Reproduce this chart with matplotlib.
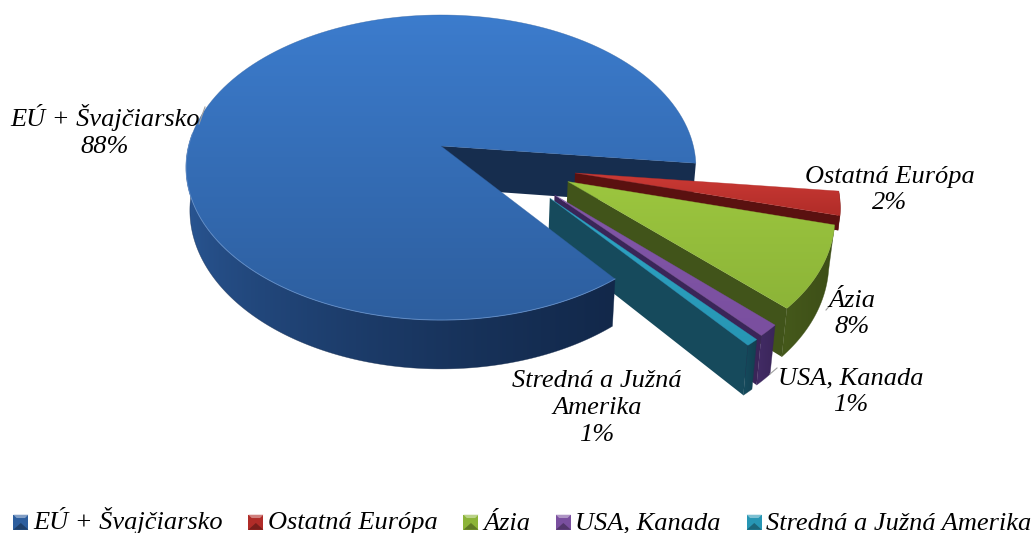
import numpy as np
import matplotlib
matplotlib.use("Agg")
import matplotlib.pyplot as plt
from matplotlib.patches import Polygon, Rectangle
from matplotlib.colors import to_rgb
from matplotlib.legend_handler import HandlerBase

# ---- data
categories = ["EÚ + Švajčiarsko", "Ostatná Európa", "Ázia", "USA, Kanada", "Stredná a Južná Amerika"]
shares = [87.3, 2.4, 8.4, 1.2, 0.7]
label_texts = ["EÚ + Švajčiarsko\n88%", "Ostatná Európa\n2%", "Ázia\n8%", "USA, Kanada\n1%", "Stredná a Južná\nAmerika\n1%"]

# ---- style / layout
top_colors = [("#3c7ccd", "#2d5e9e"), ("#cb3a35", "#b02c28"), ("#9cc63f", "#8cb438"), ("#8257a8", "#7a4f9f"), ("#2fa6c6", "#2796b4")]
side_colors = [("#2a5795", "#12284a"), ("#5c1210", "#5c1210"), ("#45591b", "#3d4e17"), ("#432c66", "#3a2559"), ("#154c5e", "#133f50")]
wall_colors = ["#162d4e", "#5a1110", "#41541a", "#3a2558", "#164a5c"]
explode = [(0, 0), (.518, -.176), (.486, -.23), (.43, -.313), (.411, -.332)]
radius = [1, 1, 1, 1, 1]
depth_scale = [1, .33, 1, 1, 1]
label_xy = [(105, 131), (890, 190), (852, 314), (851, 392), (597, 408)]
leaders = [((199, 124), (205, 107)), ((826, 310), (832, 303)), ((777, 368), (770, 374))]
start = -6.5
CX, CY, RX, RY, PERSP = 441, 146, 252.4, 149.5, .141
DEPTH, SHRINK = 42, .985
FONT = "Liberation Serif"
FS = 19

fig = plt.figure(figsize=(10.33, 5.33), dpi=100)
ax = fig.add_axes([0, 0, 1, 1])
ax.set_axis_off()


def project(u, v, bottom=False, ds=1.0):
    u, v = np.asarray(u, float), np.asarray(v, float)
    w = 1 + PERSP * v
    x = CX + RX * u / w
    y = CY - RY * v / w
    if bottom:
        x = CX + (x - CX) * (1 - (1 - SHRINK) * ds)
        y = y + DEPTH * ds / w
    return np.column_stack([x, y])


def arc(a0, a1, off=(0, 0), r=1.0, n=160):
    t = np.radians(np.linspace(a0, a1, n))
    return off[0] + r * np.cos(t), off[1] + r * np.sin(t)


def gradient(pts, c0, c1, horizontal=False, z=1, gamma=1.0):
    poly = Polygon(pts, closed=True, transform=ax.transData, fc="none", ec="none")
    ax.add_patch(poly)
    x0, x1, y0, y1 = pts[:, 0].min(), pts[:, 0].max(), pts[:, 1].min(), pts[:, 1].max()
    a, b = np.array(to_rgb(c0)), np.array(to_rgb(c1))
    f = np.linspace(0, 1, 256)[:, None] ** gamma
    g = a + (b - a) * f
    img = g[None, :, :] if horizontal else g[:, None, :]
    im = ax.imshow(img, extent=(x0, x1, y1, y0), aspect="auto", interpolation="bilinear", zorder=z)
    poly.set_zorder(z)
    im.set_clip_path(poly)
    ax.add_patch(Polygon(pts, closed=True, fc="none", ec=c1, lw=.4, zorder=z, alpha=.6))


# angular spans, clockwise from the EÚ end
spans = [v * 3.6 for v in shares]
bounds = {}
a = start
for i in [1, 2, 3, 4]:
    bounds[i] = (a, a - spans[i])
    a -= spans[i]
bounds[0] = (start, start + spans[0])


def strip(a0, a1, off, r, ds=1.0):
    u, v = arc(a0, a1, off, r)
    return np.vstack([project(u, v), project(u, v, True, ds)[::-1]])


# back wall of the large slice
u_e, v_e = np.cos(np.radians(start)), np.sin(np.radians(start))
p_top = project([0, u_e], [0, v_e])
p_bot = project([0, u_e], [0, v_e], True)
ax.add_patch(Polygon(np.vstack([p_top, p_bot[::-1]]), fc=wall_colors[0], ec="none", zorder=1))

# exploded slices, far to near
z = 2
for i in [1, 2, 3, 4]:
    a0, a1 = bounds[i]
    off, r, ds = explode[i], radius[i], depth_scale[i]
    ue, ve = off[0] + r * np.cos(np.radians(a1)), off[1] + r * np.sin(np.radians(a1))
    wt = project([off[0], ue], [off[1], ve])
    wb = project([off[0], ue], [off[1], ve], True, ds)
    ax.add_patch(Polygon(np.vstack([wt, wb[::-1]]), fc=wall_colors[i], ec="none", zorder=z))
    gradient(strip(a0, a1, off, r, ds), side_colors[i][0], side_colors[i][1], True, z)
    u, v = arc(a0, a1, off, r)
    toppts = np.vstack([project([off[0]], [off[1]]), project(u, v)])
    gradient(toppts, top_colors[i][0], top_colors[i][1], False, z + .5)
    z += 1

# front of the large slice and its top face
a0, a1 = bounds[0]
end = a1 - 360  # near corner, lower right
gradient(strip(end, -180 - 5, (0, 0), 1), side_colors[0][0], side_colors[0][1], True, 8, gamma=.6)
u, v = arc(a0, a1)
top = np.vstack([project([0], [0]), project(u, v)])
gradient(top, top_colors[0][0], top_colors[0][1], False, 9)
ue, ve = arc(end, -185)
ax.plot(*project(ue, ve).T, color="#6f9bd6", lw=.7, alpha=.7, zorder=9.5)

# data labels
for txt, (x, y) in zip(label_texts, label_xy):
    ax.text(x, y, txt, ha="center", va="center", family=FONT, style="italic", fontsize=FS,
            linespacing=1.27, color="black", zorder=12)
for p, q in leaders:
    ax.plot([p[0], q[0]], [p[1], q[1]], color="#a0a0a0", lw=.8, zorder=11)


class Bevel(HandlerBase):
    def create_artists(self, legend, orig, xd, yd, width, height, fontsize, trans):
        s = 10.8
        x0, y0 = -xd + (width - s), -yd + .5
        base = np.array(orig.get_facecolor()[:3])
        dark = base * .68
        light = base + (1 - base) * .4
        b = s * .22
        return [Rectangle((x0, y0), s, s, fc=base, ec="none", transform=trans),
                Polygon([(x0, y0 + s), (x0 + s, y0 + s), (x0 + s - b, y0 + s - b), (x0 + b, y0 + s - b)], fc=light, ec="none", transform=trans),
                Polygon([(x0, y0), (x0 + s, y0), (x0 + s / 2, y0 + s * .45)], fc=dark, ec="none", transform=trans)]


handles = [Rectangle((0, 0), 1, 1, fc=c[1]) for c in top_colors]
leg = ax.legend(handles, categories, ncol=5, loc="center", bbox_to_anchor=(522 / 1033, 1 - 521 / 533),
                bbox_transform=fig.transFigure, frameon=False, handler_map={Rectangle: Bevel()},
                prop={"family": FONT, "style": "italic", "size": FS}, handlelength=.6, handleheight=.8,
                handletextpad=.17, columnspacing=.95, borderpad=0, borderaxespad=0)
leg.set_zorder(15)

ax.set_xlim(0, 1033)
ax.set_ylim(533, 0)
fig.savefig("out.png", dpi=100, facecolor="white")
